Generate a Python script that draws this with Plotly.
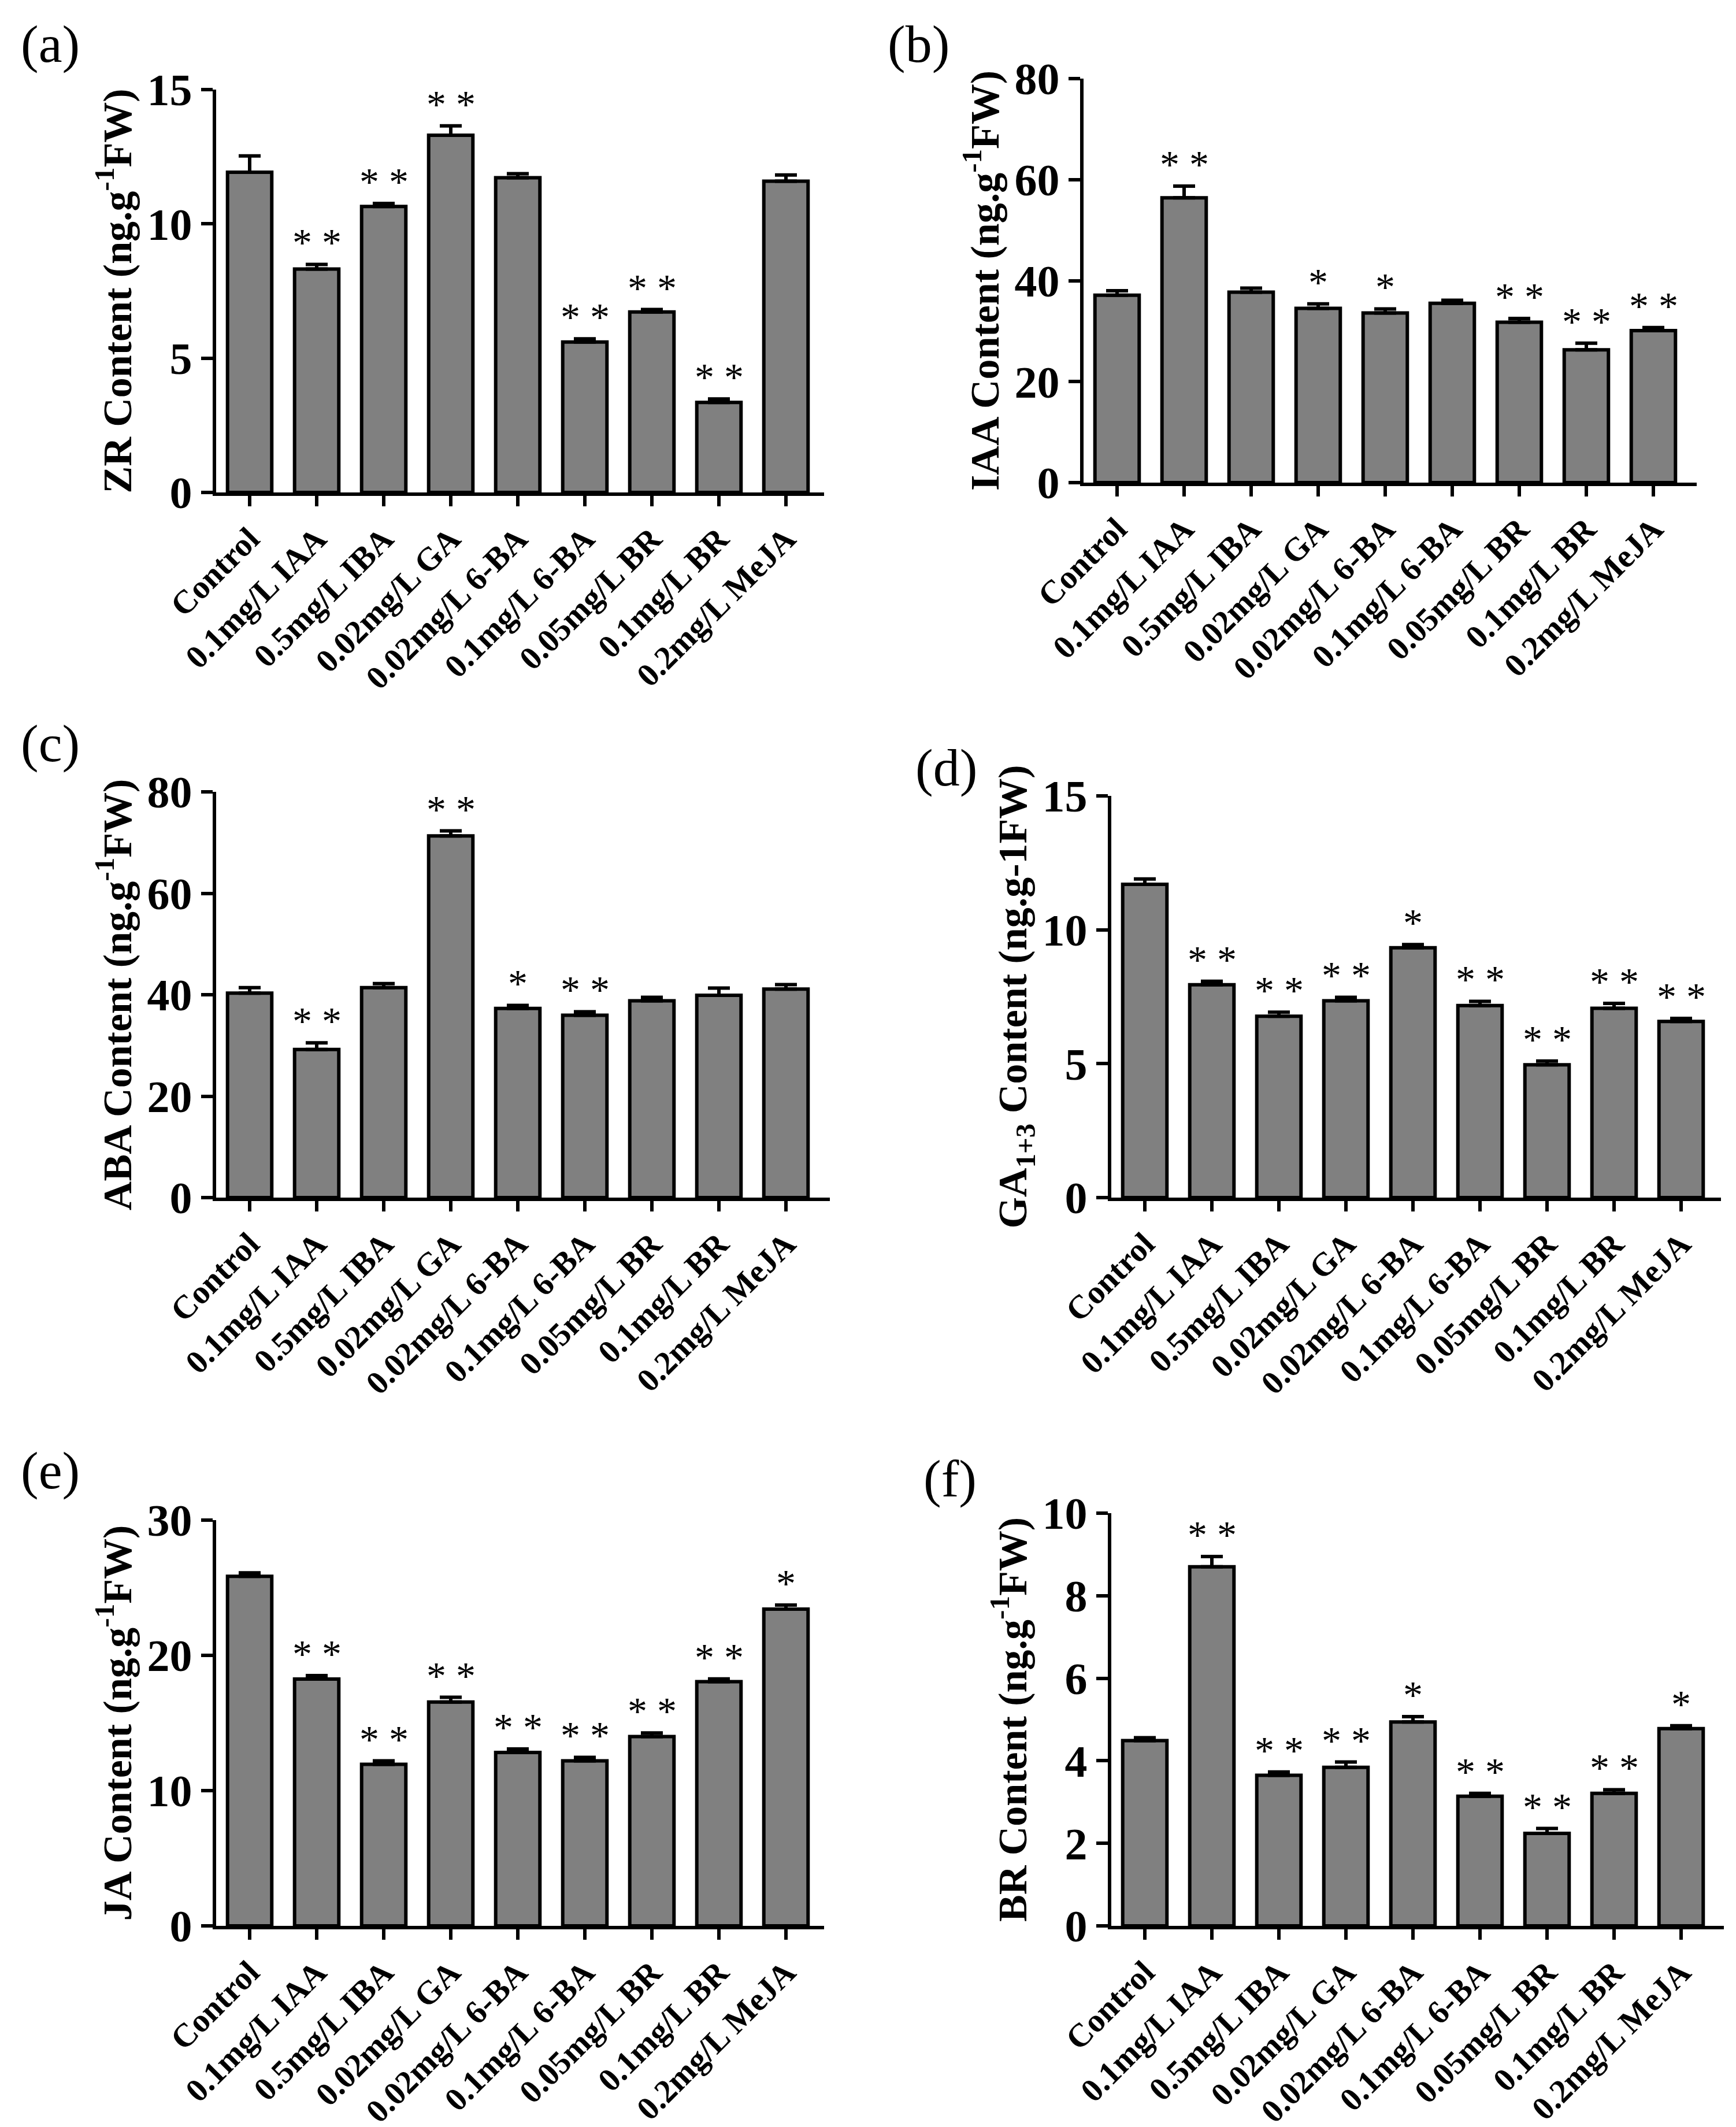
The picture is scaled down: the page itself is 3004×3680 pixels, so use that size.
import plotly.graph_objects as go
from plotly.subplots import make_subplots

W, H = 3004, 3680

categories = ["Control", "0.1mg/L IAA", "0.5mg/L IBA", "0.02mg/L GA", "0.02mg/L 6-BA",
              "0.1mg/L 6-BA", "0.05mg/L BR", "0.1mg/L BR", "0.2mg/L MeJA"]

# (a) ZR
zr_mean = [11.92, 8.32, 10.65, 13.30, 11.72, 5.60, 6.72, 3.35, 11.59]
zr_err = [0.61, 0.17, 0.11, 0.35, 0.15, 0.12, 0.09, 0.13, 0.23]
zr_sig = ["", "**", "**", "**", "", "**", "**", "**", ""]

# (b) IAA
iaa_mean = [37.1, 56.4, 37.7, 34.5, 33.6, 35.5, 31.75, 26.3, 30.1]
iaa_err = [0.9, 2.3, 0.8, 0.9, 0.8, 0.6, 0.75, 1.3, 0.6]
iaa_sig = ["", "**", "", "*", "*", "", "**", "**", "**"]

# (c) ABA
aba_mean = [40.3, 29.2, 41.4, 71.3, 37.3, 35.95, 38.8, 39.9, 41.1]
aba_err = [1.1, 1.3, 0.8, 1.0, 0.6, 0.7, 0.7, 1.4, 0.9]
aba_sig = ["", "**", "", "**", "*", "**", "", "", ""]

# (d) GA1+3
ga_mean = [11.70, 7.95, 6.77, 7.35, 9.33, 7.17, 4.96, 7.07, 6.58]
ga_err = [0.2, 0.13, 0.15, 0.13, 0.12, 0.16, 0.14, 0.18, 0.11]
ga_sig = ["", "**", "**", "**", "*", "**", "**", "**", "**"]

# (e) JA
ja_mean = [25.84, 18.25, 11.94, 16.55, 12.82, 12.2, 14.0, 18.06, 23.42]
ja_err = [0.26, 0.25, 0.26, 0.35, 0.26, 0.26, 0.26, 0.2, 0.3]
ja_sig = ["", "**", "**", "**", "**", "**", "**", "**", "*"]

# (f) BR
br_mean = [4.49, 8.70, 3.65, 3.84, 4.94, 3.14, 2.24, 3.21, 4.78]
br_err = [0.07, 0.25, 0.08, 0.13, 0.13, 0.07, 0.12, 0.09, 0.07]
br_sig = ["", "**", "**", "**", "*", "**", "**", "**", "*"]

panels = [
    # label, y title, means, errs, sig, ymax, dtick, box px (left, right, top, bottom), label pos
    ("(a)", "ZR Content (ng.g<sup>-1</sup>FW)", zr_mean, zr_err, zr_sig, 15, 5,
     (366, 1418, 147, 844), (26, 68)),
    ("(b)", "IAA Content (ng.g<sup>-1</sup>FW)", iaa_mean, iaa_err, iaa_sig, 80, 20,
     (1867, 2928, 128, 827), (1526, 68)),
    ("(c)", "ABA Content (ng.g<sup>-1</sup>FW)", aba_mean, aba_err, aba_sig, 80, 20,
     (366, 1428, 1362, 2064), (26, 1278)),
    ("(d)", "GA<sub>1+3</sub> Content (ng.g-1FW)", ga_mean, ga_err, ga_sig, 15, 5,
     (1915, 2970, 1369, 2064), (1574, 1320)),
    ("(e)", "JA Content (ng.g<sup>-1</sup>FW)", ja_mean, ja_err, ja_sig, 30, 10,
     (366, 1418, 2622, 3324), (26, 2536)),
    ("(f)", "BR Content (ng.g<sup>-1</sup>FW)", br_mean, br_err, br_sig, 10, 2,
     (1915, 2975, 2610, 3324), (1588, 2550)),
]

FONT = "Liberation Serif"
SPACING = 116  # px per category

fig = make_subplots(rows=3, cols=2)

for i, (label, title, means, errs, sig, ymax, dtick, box, lab_pos) in enumerate(panels):
    row, col = i // 2 + 1, i % 2 + 1
    left, right, top, bottom = box
    fig.add_trace(
        go.Bar(
            x=categories,
            y=means,
            width=0.66,
            marker=dict(color="#808080", line=dict(color="black", width=6)),
            error_y=dict(type="data", array=errs, arrayminus=[0] * len(errs), symmetric=False,
                         color="black", thickness=6, width=19),
            showlegend=False,
        ),
        row=row, col=col,
    )
    n = "" if i == 0 else str(i + 1)
    fig.update_layout({
        "xaxis" + n: dict(
            domain=[left / W, right / W],
            range=[-0.5, -0.5 + (right - left) / SPACING],
            automargin=False,
            showline=True, linewidth=6, linecolor="black",
            ticks="outside", ticklen=18, tickwidth=6, tickcolor="black",
            tickangle=-45, showgrid=False, zeroline=False,
            tickfont=dict(family=FONT, size=57, color="black", weight="bold"),
        ),
        "yaxis" + n: dict(
            domain=[1 - bottom / H, 1 - top / H],
            range=[0, ymax], dtick=dtick, tick0=0,
            automargin=False,
            showline=True, linewidth=6, linecolor="black",
            ticks="outside", ticklen=20, tickwidth=6, tickcolor="black",
            showgrid=False, zeroline=False,
            tickfont=dict(family=FONT, size=78, color="black", weight="bold"),
            title=dict(text=title, standoff=6,
                       font=dict(family=FONT, size=70, color="black", weight="bold")),
        ),
    })
    xref = "x" + n
    yref = "y" + n
    for j, s in enumerate(sig):
        if s:
            fig.add_annotation(
                x=categories[j], y=means[j] + errs[j], xref=xref, yref=yref,
                text=" ".join(s), showarrow=False, yanchor="bottom", yshift=-2,
                font=dict(family=FONT, size=68, color="black"),
            )
    fig.add_annotation(
        x=lab_pos[0] / W, y=1 - lab_pos[1] / H, xref="paper", yref="paper",
        text=label, showarrow=False, xanchor="left", yanchor="middle",
        font=dict(family=FONT, size=92, color="black"),
    )

fig.update_layout(
    width=W, height=H,
    margin=dict(l=0, r=0, t=0, b=0, autoexpand=False),
    paper_bgcolor="white", plot_bgcolor="white",
)

fig.write_html("out.html")
